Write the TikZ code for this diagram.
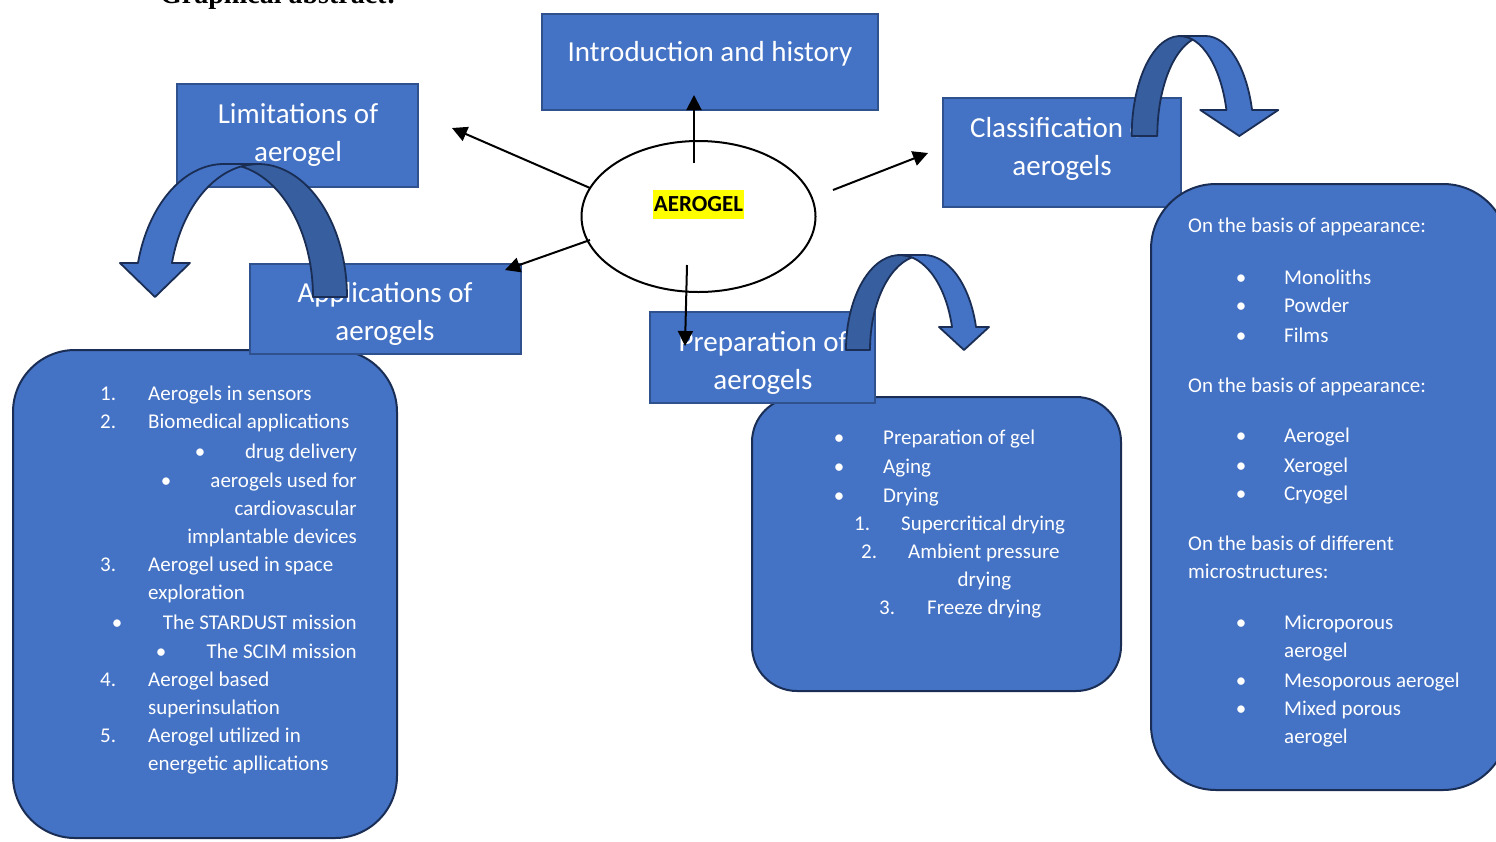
\documentclass[tikz,border=0pt]{standalone}
\usepackage{fontspec}
\setmainfont{Carlito}
\newfontfamily\titlefont{Liberation Serif}
\usetikzlibrary{shapes.geometric,arrows.meta}
\definecolor{boxblue}{HTML}{4472C4}
\definecolor{boxedge}{HTML}{2F528F}
\definecolor{darkband}{HTML}{375E9E}
\definecolor{bandedge}{HTML}{1A2E55}
\definecolor{hl}{HTML}{FFFF00}
\tikzset{
  rectbox/.style={draw=boxedge, fill=boxblue, line width=2pt, inner sep=0pt},
  roundbox/.style={draw=bandedge, fill=boxblue, line width=2pt, inner sep=0pt, rounded corners=#1},
  ttl/.style={text=white, font=\fontsize{29}{35}\selectfont, inner sep=0pt, anchor=base},
  lt/.style={text=white, font=\fontsize{21}{26}\selectfont, inner sep=0pt, anchor=base west},
  rt/.style={lt, anchor=base east},
  ct/.style={lt, anchor=base},
  conn/.style={line width=2pt, -{Triangle[length=15pt,width=15pt]}},
  frontband/.style={fill=boxblue, draw=bandedge, line width=1.8pt, line join=round},
  backband/.style={fill=darkband, draw=bandedge, line width=1.8pt, line join=round},
}
% list helpers
\newcommand\LT[4]{\node[lt] (#1) at (#2,-#3) {#4};}
\newcommand\RT[4]{\node[rt] (#1) at (#2,-#3) {#4};}
\newcommand\BU[3]{\node[ct] (#1) at (#2,-#3) {•};}
% curved block arrow: #1 cA, #2 bottom, #3 top, #4 band thickness, #5 x radius, #6 head base y, #7 head half width, #8 xscale
\newcommand\CurvArrow[8]{%
  \begin{scope}[shift={(#1,-#2)}, xscale=#8]
    \pgfmathsetmacro\hh{#2-#3}
    \pgfmathsetmacro\Yone{#2-#6}
    \pgfmathsetmacro\al{asin(\Yone/\hh)}
    \pgfmathsetmacro\ss{cos(\al)}
    \pgfmathsetmacro\cc{#4/2+#5*\ss}
    \pgfmathsetmacro\be{acos(#4/(2*#5))}
    \pgfmathsetmacro\gam{180-\be}
    \filldraw[backband] (-#5,0) arc[start angle=180, end angle=\be, x radius=#5, y radius=\hh]
      arc[start angle=\gam, end angle=180, x radius=#5, y radius=\hh] -- cycle;
    \filldraw[frontband] (\cc,0) -- ({\cc-#7},\Yone) -- ({#5*\ss},\Yone)
      arc[start angle=\al, end angle=90, x radius=#5, y radius=\hh] -- (#4,\hh)
      arc[start angle=90, end angle=\al, x radius=#5, y radius=\hh] -- ({\cc+#7},\Yone) -- cycle;
  \end{scope}}
\begin{document}
\begin{tikzpicture}[x=1pt,y=1pt]
\useasboundingbox (0,0) rectangle (1496,-841);
\fill[white] (0,0) rectangle (1496,-841);

% cut-off heading
\node[inner sep=0pt, anchor=base west, font=\titlefont\bfseries\fontsize{28}{32}\selectfont] (head) at (160,-3) {Graphical abstract:};

% rounded content boxes
\node[roundbox=62pt, minimum width=384pt, minimum height=488pt] (appbox) at (205,-594) {};
\node[roundbox=45pt, minimum width=369pt, minimum height=294pt] (prepbox) at (936.5,-544) {};

% title rectangles
\node[rectbox, minimum width=336pt, minimum height=96pt] (intro) at (710,-62) {};
\node[rectbox, minimum width=241pt, minimum height=103pt] (limit) at (297.5,-135.5) {};
\node[rectbox, minimum width=271pt, minimum height=90pt] (appl) at (385.5,-309) {};
\node[rectbox, minimum width=225pt, minimum height=91pt] (prep) at (762.5,-357.5) {};
\node[rectbox, minimum width=238pt, minimum height=109pt] (class) at (1062,-152.5) {};

\node[roundbox=65pt, minimum width=357pt, minimum height=606pt] (classbox) at (1329.5,-487) {};

% titles
\node[ttl] (introT) at (710,-61) {Introduction and history};
\node[ttl] (limitT1) at (298,-123) {Limitations of};
\node[ttl] (limitT2) at (298,-161) {aerogel};
\node[ttl] (applT1) at (385,-302) {Applications of};
\node[ttl] (applT2) at (385,-340) {aerogels};
\node[ttl] (prepT1) at (763,-351) {Preparation of};
\node[ttl] (prepT2) at (763,-389) {aerogels};
\node[ttl] (classT1) at (1062,-137) {Classification of};
\node[ttl] (classT2) at (1062,-175) {aerogels};

% applications list
\LT{a1n}{100}{400}{1.}\LT{a1}{148}{400}{Aerogels in sensors}
\LT{a2n}{100}{428}{2.}\LT{a2}{148}{428}{Biomedical applications}
\BU{a2ab}{200}{458}\RT{a2a}{357}{458}{drug delivery}
\BU{a2bb}{166}{487}\RT{a2b}{357}{487}{aerogels used for}
\RT{a2c}{357}{515}{cardiovascular}
\RT{a2d}{357}{543}{implantable devices}
\LT{a3n}{100}{571}{3.}\LT{a3}{148}{571}{Aerogel used in space}
\LT{a3x}{148}{599}{exploration}
\BU{a3ab}{117}{629}\RT{a3a}{357}{629}{The STARDUST mission}
\BU{a3bb}{161}{658}\RT{a3b}{357}{658}{The SCIM mission}
\LT{a4n}{100}{686}{4.}\LT{a4}{148}{686}{Aerogel based}
\LT{a4x}{148}{714}{superinsulation}
\LT{a5n}{100}{742}{5.}\LT{a5}{148}{742}{Aerogel utilized in}
\LT{a5x}{148}{770}{energetic apllications}

% preparation list
\BU{p1b}{839}{444}\LT{p1}{883}{444}{Preparation of gel}
\BU{p2b}{839}{473}\LT{p2}{883}{473}{Aging}
\BU{p3b}{839}{502}\LT{p3}{883}{502}{Drying}
\LT{p31n}{854}{530}{1.}\LT{p31}{901}{530}{Supercritical drying}
\LT{p32n}{861}{558}{2.}\LT{p32}{908}{558}{Ambient pressure}
\node[ct] (p32x) at (984.5,-586) {drying};
\LT{p33n}{879}{614}{3.}\LT{p33}{927}{614}{Freeze drying}

% classification list
\LT{c1}{1188}{232}{On the basis of appearance:}
\BU{c1ab}{1241}{284}\LT{c1a}{1284}{284}{Monoliths}
\BU{c1bb}{1241}{312}\LT{c1b}{1284}{312}{Powder}
\BU{c1cb}{1241}{342}\LT{c1c}{1284}{342}{Films}
\LT{c2}{1188}{392}{On the basis of appearance:}
\BU{c2ab}{1241}{442}\LT{c2a}{1284}{442}{Aerogel}
\BU{c2bb}{1241}{472}\LT{c2b}{1284}{472}{Xerogel}
\BU{c2cb}{1241}{500}\LT{c2c}{1284}{500}{Cryogel}
\LT{c3}{1188}{550}{On the basis of different}
\LT{c3x}{1188}{578}{microstructures:}
\BU{c3ab}{1241}{629}\LT{c3a}{1284}{629}{Microporous}
\LT{c3ax}{1284}{657}{aerogel}
\BU{c3bb}{1241}{687}\LT{c3b}{1284}{687}{Mesoporous aerogel}
\BU{c3cb}{1241}{715}\LT{c3c}{1284}{715}{Mixed porous}
\LT{c3cx}{1284}{743}{aerogel}

% central ellipse
\node[ellipse, draw=black, line width=2pt, fill=white, minimum width=234pt, minimum height=151pt, inner sep=0pt] (core) at (698.5,-216.5) {};
\node[fill=hl, inner xsep=1pt, inner ysep=0pt, text height=21.7pt, text depth=7.3pt, anchor=base, font=\bfseries\fontsize{23}{28}\selectfont] (coreT) at (698.5,-211.7) {AEROGEL};

% connectors
\coordinate (sUp) at (694,-163);  \coordinate (eUp) at (694,-95);
\coordinate (sUL) at (590,-188);  \coordinate (eUL) at (452,-128);
\coordinate (sR)  at (833,-190);  \coordinate (eR)  at (928,-153);
\coordinate (sDL) at (590,-240);  \coordinate (eDL) at (505,-270);
\coordinate (sD)  at (687,-265);  \coordinate (eD)  at (685,-346);
\draw[conn] (sUp) -- (eUp);
\draw[conn] (sUL) -- (eUL);
\draw[conn] (sR) -- (eR);
\draw[conn] (sDL) -- (eDL);
\draw[conn] (sD) -- (eD);

% curved block arrows
\CurvArrow{258}{297}{164}{34}{89}{263}{35}{-1}
\CurvArrow{899.8}{350}{255}{24}{53.8}{327}{25}{1}
\CurvArrow{1179.9}{136}{36}{25.6}{48.2}{110}{39}{1}
\end{tikzpicture}
\end{document}
